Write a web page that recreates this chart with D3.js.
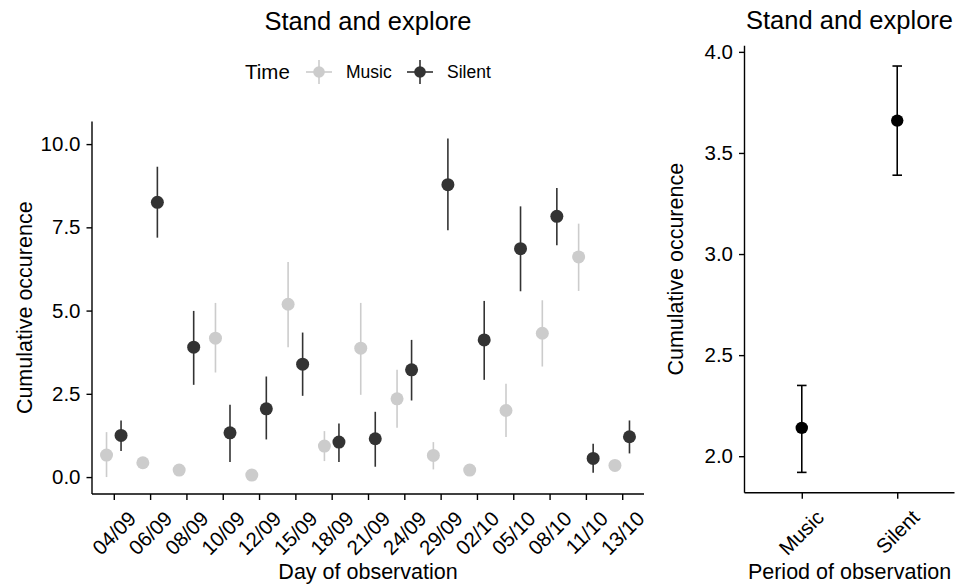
<!DOCTYPE html>
<html>
<head>
<meta charset="utf-8">
<script src="https://cdn.jsdelivr.net/npm/d3@7"></script>
<style>
  body { margin: 0; background: #fff; }
  svg text { font-family: "Liberation Sans", Arial, Helvetica, sans-serif; fill: #000; }
</style>
</head>
<body>
<svg id="chart" width="958" height="588"></svg>
<script>
// Daily values (left panel)
const days = ['04/09', '06/09', '08/09', '10/09', '12/09', '15/09', '18/09', '21/09',
  '24/09', '29/09', '02/10', '05/10', '08/10', '11/10', '13/10'];
const musicMean = [0.66, 0.43, 0.21, 4.17, 0.06, 5.19, 0.93, 3.87, 2.35, 0.65, 0.21, 2.00, 4.32, 6.61, 0.35];
const musicLow = [0.00, 0.43, 0.21, 3.14, 0.06, 3.90, 0.48, 2.47, 1.48, 0.23, 0.21, 1.20, 3.32, 5.59, 0.35];
const musicHigh = [1.35, 0.43, 0.21, 5.23, 0.06, 6.46, 1.38, 5.23, 3.22, 1.05, 0.21, 2.80, 5.31, 7.61, 0.35];
const silentMean = [1.25, 8.25, 3.90, 1.33, 2.05, 3.39, 1.05, 1.15, 3.22, 8.78, 4.12, 6.86, 7.83, 0.56, 1.21];
const silentLow = [0.78, 7.19, 2.77, 0.45, 1.13, 2.44, 0.45, 0.31, 2.30, 7.41, 2.92, 5.58, 6.96, 0.13, 0.71];
const silentHigh = [1.70, 9.32, 4.99, 2.17, 3.02, 4.34, 1.61, 1.96, 4.12, 10.17, 5.29, 8.13, 8.68, 1.00, 1.70];
const leftTicks = [0, 2.5, 5, 7.5, 10];

// Period summary (right panel)
const periods = ['Music', 'Silent'];
const periodMean = [2.14, 3.66];
const periodLow = [1.92, 3.39];
const periodHigh = [2.35, 3.93];
const rightTicks = [2.0, 2.5, 3.0, 3.5, 4.0];

const colours = { Music: '#cccccc', Silent: '#333333' };

const svg = d3.select('#chart');

// ggplot style 5% expansion of the data range
function expanded(lo, hi) {
  const pad = (hi - lo) * 0.05;
  return [lo - pad, hi + pad];
}

function drawAxes(g, x, y, ticks, xTitle, yTitle, yTitleX) {
  const [x0, x1] = x.range();
  const [yb, yt] = y.range();
  // y axis
  const ya = g.append('g').attr('transform', `translate(${x0},0)`)
    .call(d3.axisLeft(y).tickValues(ticks).tickFormat(d3.format('.1f')).tickSize(5.5).tickPadding(6));
  ya.select('.domain').attr('d', `M0,${yb}V${yt}`);
  // x axis
  const xa = g.append('g').attr('transform', `translate(0,${yb})`)
    .call(d3.axisBottom(x).tickSize(6).tickPadding(0));
  xa.select('.domain').attr('d', `M${x0},0H${x1}`);
  g.selectAll('.domain').attr('stroke', '#000').attr('stroke-width', 1.4);
  g.selectAll('.tick line').attr('stroke', '#000').attr('stroke-width', 1.4);
  ya.selectAll('.tick text').attr('font-size', 20.5).attr('fill', '#000');
  xa.selectAll('.tick text')
    .attr('font-size', 20.5).attr('fill', '#000')
    .attr('text-anchor', 'end').attr('dy', null).attr('y', null)
    .attr('transform', 'translate(23,26) rotate(-45)');
  g.append('text').attr('x', (x0 + x1) / 2).attr('y', 579)
    .attr('text-anchor', 'middle').attr('font-size', 21.5).text(xTitle);
  g.append('text').attr('transform', `translate(${yTitleX},${(yb + yt) / 2}) rotate(-90)`)
    .attr('text-anchor', 'middle').attr('font-size', 21.5).text(yTitle);
}

// ---------- left panel ----------
const left = svg.append('g');
const xL = d3.scalePoint().domain(days).range([92, 644]).padding(0.6);
const yL = d3.scaleLinear()
  .domain(expanded(d3.min(musicLow.concat(silentLow)), d3.max(musicHigh.concat(silentHigh))))
  .range([494, 121.5]);
drawAxes(left, xL, yL, leftTicks, 'Day of observation', 'Cumulative occurence', 31.5);

const dodge = xL.step() * 0.2;
const rows = [];
days.forEach((d, i) => {
  rows.push({ day: d, grp: 'Music', m: musicMean[i], lo: musicLow[i], hi: musicHigh[i], dx: -dodge });
  rows.push({ day: d, grp: 'Silent', m: silentMean[i], lo: silentLow[i], hi: silentHigh[i], dx: dodge });
});

left.selectAll('.err').data(rows).enter().append('line')
  .attr('class', 'err')
  .attr('x1', r => xL(r.day) + r.dx).attr('x2', r => xL(r.day) + r.dx)
  .attr('y1', r => yL(r.lo)).attr('y2', r => yL(r.hi))
  .attr('stroke', r => colours[r.grp]).attr('stroke-width', 1.6);

left.selectAll('.pt').data(rows).enter().append('circle')
  .attr('class', 'pt')
  .attr('cx', r => xL(r.day) + r.dx).attr('cy', r => yL(r.m))
  .attr('r', 6.5).attr('fill', r => colours[r.grp]);

left.append('text').attr('x', 368).attr('y', 29.5).attr('text-anchor', 'middle')
  .attr('font-size', 25.5).text('Stand and explore');

// legend
const legend = left.append('g');
legend.append('text').attr('x', 245).attr('y', 79).attr('font-size', 20.5).text('Time');
const keys = [{ grp: 'Music', cx: 319, tx: 346 }, { grp: 'Silent', cx: 420, tx: 447 }];
keys.forEach(k => {
  const c = colours[k.grp];
  legend.append('line').attr('x1', k.cx - 13).attr('x2', k.cx + 13).attr('y1', 72).attr('y2', 72)
    .attr('stroke', c).attr('stroke-width', 1.6);
  legend.append('line').attr('x1', k.cx).attr('x2', k.cx).attr('y1', 60).attr('y2', 84)
    .attr('stroke', c).attr('stroke-width', 1.6);
  legend.append('circle').attr('cx', k.cx).attr('cy', 72).attr('r', 5.8).attr('fill', c);
  legend.append('text').attr('x', k.tx).attr('y', 78).attr('font-size', 17.5).text(k.grp);
});

// ---------- right panel ----------
const right = svg.append('g');
const xR = d3.scalePoint().domain(periods).range([744.5, 954.5]).padding(0.6);
const yR = d3.scaleLinear()
  .domain(expanded(d3.min(periodLow), d3.max(periodHigh)))
  .range([492.7, 45.7]);
drawAxes(right, xR, yR, rightTicks, 'Period of observation', 'Cumulative occurence', 683);

const cap = xR.step() * 0.05;
periods.forEach((p, i) => {
  const cx = xR(p);
  const g = right.append('g');
  g.append('line').attr('x1', cx).attr('x2', cx).attr('y1', yR(periodLow[i])).attr('y2', yR(periodHigh[i]))
    .attr('stroke', '#000').attr('stroke-width', 1.6);
  [periodLow[i], periodHigh[i]].forEach(v => {
    g.append('line').attr('x1', cx - cap).attr('x2', cx + cap).attr('y1', yR(v)).attr('y2', yR(v))
      .attr('stroke', '#000').attr('stroke-width', 1.6);
  });
  g.append('circle').attr('cx', cx).attr('cy', yR(periodMean[i])).attr('r', 6.2).attr('fill', '#000');
});

right.append('text').attr('x', 849.5).attr('y', 29).attr('text-anchor', 'middle')
  .attr('font-size', 25.5).text('Stand and explore');
</script>
</body>
</html>
